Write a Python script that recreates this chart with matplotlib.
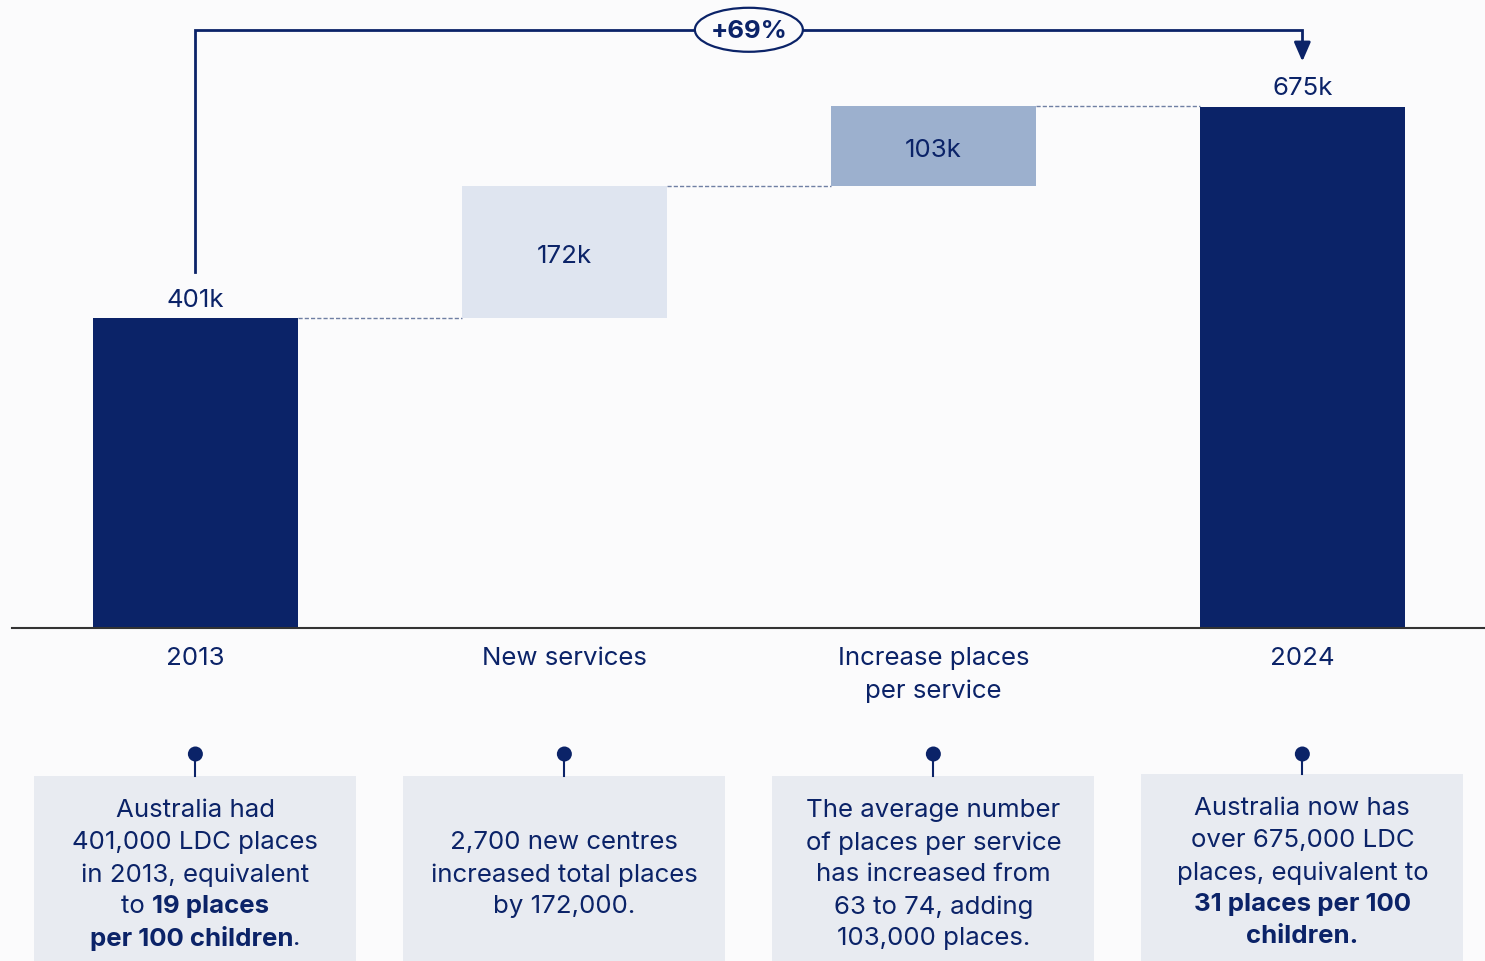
import matplotlib
matplotlib.use("Agg")
import matplotlib.pyplot as plt
from matplotlib.patches import Rectangle, Ellipse, Circle

# ---- data ----
categories = ["2013", "New services", "Increase places\nper service", "2024"]
values = [401, 172, 103, 675]          # thousands of LDC places
kinds = ["total", "step", "step", "total"]
value_labels = ["401k", "172k", "103k", "675k"]
change_label = "+69%"
notes = [
    [[("Australia had", False)], [("401,000 LDC places", False)], [("in 2013, equivalent", False)],
     [("to ", False), ("19 places", True)], [("per 100 children", True), (".", False)]],
    [[("2,700 new centres", False)], [("increased total places", False)], [("by 172,000.", False)]],
    [[("The average number", False)], [("of places per service", False)], [("has increased from", False)],
     [("63 to 74, adding", False)], [("103,000 places.", False)]],
    [[("Australia now has", False)], [("over 675,000 LDC", False)], [("places, equivalent to", False)],
     [("31 places per 100", True)], [("children.", True)]],
]

NAVY = "#0B2368"
LIGHT = "#DFE5F0"
MID = "#9CB0CE"
BG = "#FBFBFC"
BOX = "#E8EBF1"
DASH = "#6F7FA3"
FONT = ["Inter", "DejaVu Sans"]
plt.rcParams["font.family"] = FONT
FS = 18.6

W, H = 1485, 962
fig = plt.figure(figsize=(W / 100, H / 100), dpi=100, facecolor=BG)

# main axes (pixel-aligned)
ax = fig.add_axes([12 / W, 1 - 629 / H, (W - 12) / W, 629 / H])
ax.set_facecolor("none")
ax.set_xlim(-0.497, 3.495)
ax.set_ylim(0, 629 / 0.7719)
for s in ["top", "right", "left"]:
    ax.spines[s].set_visible(False)
ax.spines["bottom"].set_color("#333333")
ax.spines["bottom"].set_linewidth(1.5)
ax.set_yticks([])
ax.set_xticks([])

bw = 0.556
running = 0
bottoms, tops, colors = [], [], []
step_colors = [LIGHT, MID]
si = 0
for v, k in zip(values, kinds):
    if k == "total":
        bottoms.append(0)
        tops.append(v)
        colors.append(NAVY)
        running = v
    else:
        bottoms.append(running)
        running = running + v
        tops.append(running)
        colors.append(step_colors[si])
        si += 1
heights = [t - b for t, b in zip(tops, bottoms)]
x = list(range(len(values)))
ax.bar(x, heights, bottom=bottoms, width=bw, color=colors, zorder=2)

# connectors
for i in range(len(values) - 1):
    ax.plot([i + bw / 2, i + 1 - bw / 2], [tops[i], tops[i]], ls=(0, (3, 1.5)),
            color=DASH, lw=1, zorder=1)

# value labels
for i, (lab, k) in enumerate(zip(value_labels, kinds)):
    if k == "total":
        ax.text(i, tops[i] + 10, lab, ha="center", va="bottom", fontsize=FS, color=NAVY)
    else:
        ax.text(i, (tops[i] + bottoms[i]) / 2 - 4, lab, ha="center", va="center", fontsize=FS, color=NAVY)

# bracket
y_top = 775
ax.plot([0, 0, 3, 3], [tops[0] + 60, y_top, y_top, 750], color=NAVY, lw=2, zorder=3,
        solid_joinstyle="miter")
ax.annotate("", xy=(3, 734), xytext=(3, 752),
            arrowprops=dict(arrowstyle="-|>,head_length=1.15,head_width=0.5", color=NAVY, lw=2,
                            shrinkA=0, shrinkB=0))
for ch in ax.get_children():
    try:
        ch.set_clip_on(False)
    except Exception:
        pass

# overlay axes in pixel coordinates (y downward)
ov = fig.add_axes([0, 0, 1, 1])
ov.set_xlim(0, W)
ov.set_ylim(H, 0)
ov.axis("off")
ov.patch.set_alpha(0)

centers = [ax.transData.transform((i, 0))[0] for i in x]
ymid = H - ax.transData.transform((0, y_top))[1]
xmid = (centers[0] + centers[-1]) / 2
ov.add_patch(Ellipse((xmid, ymid), 108, 44, fc=BG, ec=NAVY, lw=1.6, zorder=5))
ov.text(xmid, ymid + 1, change_label, ha="center", va="center", fontsize=FS, fontweight="bold",
        color=NAVY, zorder=6)

for i, c in enumerate(categories):
    for j, line in enumerate(c.split("\n")):
        ov.text(centers[i], 659 + 32 * j, line, ha="center", va="center", fontsize=FS, color=NAVY)

fig.canvas.draw()
renderer = fig.canvas.get_renderer()


def text_w(s, bold, fs):
    t = ov.text(0, 0, s, fontsize=fs, fontweight="bold" if bold else "normal")
    w = t.get_window_extent(renderer).width
    t.remove()
    return w


box_w = 322
for i, lines in enumerate(notes):
    cx = centers[i]
    top = 777 if i < 3 else 775
    ov.add_patch(Rectangle((cx - box_w / 2, top), box_w, H - top + 5, fc=BOX, ec="none", zorder=1))
    ov.plot([cx, cx], [755, top], color=NAVY, lw=1.5, zorder=2)
    ov.add_patch(Circle((cx, 755), 7.5, fc=NAVY, ec="none", zorder=3))
    n = len(lines)
    y0 = (811 if i < 3 else 809) if n == 5 else 843
    for j, segs in enumerate(lines):
        widths = [text_w(s.replace(" ", "\u00a0"), b, FS) for s, b in segs]
        total = sum(widths)
        xs = cx - total / 2
        for (s, b), w in zip(segs, widths):
            ov.text(xs, y0 + 32 * j, s.replace(" ", "\u00a0"), ha="left", va="center", fontsize=FS,
                    fontweight="bold" if b else "normal", color=NAVY, zorder=4)
            xs += w

fig.savefig("out.png", dpi=100, facecolor=BG)
